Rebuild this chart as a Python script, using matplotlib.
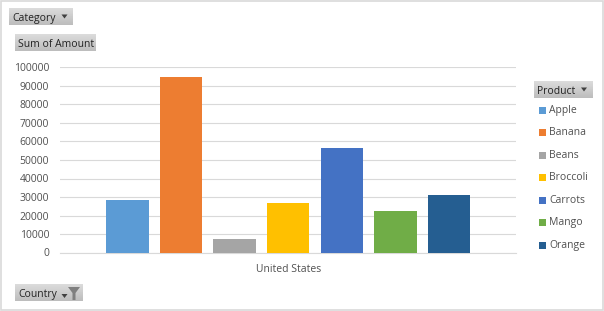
import numpy as np
import matplotlib.pyplot as plt
from matplotlib.patches import Rectangle, Polygon

plt.rcParams['font.family'] = ['Open Sans', 'DejaVu Sans']

# Data
products = ['Apple', 'Banana', 'Beans', 'Broccoli', 'Carrots', 'Mango', 'Orange']
amounts = [28200, 94700, 7400, 26900, 56600, 22400, 31200]
colors = ['#5B9BD5', '#ED7D31', '#A5A5A5', '#FFC000', '#4472C4', '#70AD47', '#255E91']
yticks = [0, 10000, 20000, 30000, 40000, 50000, 60000, 70000, 80000, 90000, 100000]
country = 'United States'

W, H = 604, 311
fig = plt.figure(figsize=(W / 100, H / 100), dpi=100)

# Overlay in pixel coordinates for the frame and the field buttons
page = fig.add_axes([0, 0, 1, 1])
page.set_xlim(0, W)
page.set_ylim(H, 0)
page.axis('off')
page.add_patch(Rectangle((0.5, 0.5), W - 1.5, H - 1.5, fc='white', ec='#D9D9D9', lw=1.2))


def button(x, y, w, h, label, arrow_x=None, arrow_dy=0, arrow_r=3):
    # vertical grey gradient like the pivot chart field buttons
    grad = np.linspace(0.86, 0.74, 20).reshape(-1, 1)
    page.imshow(grad, extent=(x, x + w, y + h, y), cmap='gray', vmin=0, vmax=1,
                aspect='auto', zorder=2)
    page.text(x + 3.5, y + h / 2 + 1.7, label, fontsize=7.5, color='#222222', va='center', ha='left', zorder=3)
    if arrow_x is not None:
        ym = y + h / 2 + arrow_dy
        page.add_patch(Polygon([(arrow_x - arrow_r, ym - 2), (arrow_x + arrow_r, ym - 2), (arrow_x, ym + 2)],
                               fc='#404040', ec='none', zorder=3))


button(9, 8, 64, 17, 'Category', arrow_x=64.5)
button(15, 34, 81, 17, 'Sum of Amount')
button(15, 284, 68, 17, 'Country', arrow_x=64.5, arrow_dy=3.5)
button(534, 81, 59, 17, 'Product', arrow_x=584)

# Filter funnel on the Country button
page.add_patch(Polygon([(68, 287), (80, 287), (75.5, 293), (75.5, 300), (72.5, 300), (72.5, 293)],
                       fc='#7F7F7F', ec='none', zorder=3))
page.set_xlim(0, W)
page.set_ylim(H, 0)

# Main plot
ax = fig.add_axes([60.3 / W, 1 - 252.5 / H, 456 / W, 185 / H])
x = np.arange(len(products))
ax.bar(x, amounts, width=0.79, color=colors, zorder=3)
ax.set_xlim(-1.25, len(products) - 1 + 1.25)
ax.set_ylim(0, 100000)
ax.set_yticks(yticks)
ax.set_xticks([(len(products) - 1) / 2])
ax.set_xticklabels([country])
ax.tick_params(axis='both', length=0, labelsize=7.5, labelcolor='#505050')
ax.tick_params(axis='y', pad=8)
ax.tick_params(axis='x', pad=8)
ax.grid(axis='y', color='#D9D9D9', lw=0.8, zorder=0)
ax.set_facecolor('none')
for name in ['top', 'right', 'left']:
    ax.spines[name].set_visible(False)
ax.spines['bottom'].set_color('#D9D9D9')

# Legend drawn from the same products and colours
for i, (name, col) in enumerate(zip(products, colors)):
    y = 110 + i * 22.5
    page.add_patch(Rectangle((539, y - 3.5), 7, 7, fc=col, ec='none', zorder=3))
    page.text(549, y + 0.3, name, fontsize=7.5, color='#505050', va='center', ha='left', zorder=3)

fig.savefig('out.png', dpi=100)
